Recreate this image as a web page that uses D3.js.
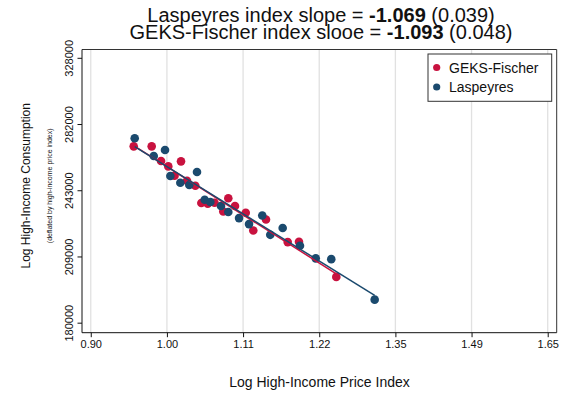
<!DOCTYPE html>
<html>
<head>
<meta charset="utf-8">
<script src="https://cdn.jsdelivr.net/npm/d3@7"></script>
<style>
  html, body { margin: 0; padding: 0; background: #fff; }
  svg { display: block; font-family: "Liberation Sans", Arial, Helvetica, sans-serif; }
</style>
</head>
<body>
<svg id="chart" width="567" height="393"></svg>
<script>
// Log price index (x) and log deflated consumption (y), one point per observation
const geksLogPrice = [-0.0436, -0.0200, -0.0077, 0.0018, 0.0185, 0.0100, 0.0264, 0.0373, 0.0452, 0.0536,
                      0.0625, 0.0806, 0.0894, 0.0740, 0.1035, 0.1134, 0.1301, 0.1586, 0.1734, 0.2224];
const geksLogCons  = [12.4994, 12.4994, 12.4663, 12.4540, 12.4654, 12.4329, 12.4216, 12.4102, 12.3710, 12.3694,
                      12.3717, 12.3819, 12.3642, 12.3519, 12.3490, 12.3088, 12.3338, 12.2825, 12.2832, 12.2037];
const laspLogPrice = [-0.0423, -0.0173, -0.0025, 0.0045, 0.0176, 0.0294, 0.0395, 0.0496, 0.0570, 0.0710,
                      0.0806, 0.0947, 0.1078, 0.1252, 0.1357, 0.1520, 0.1747, 0.1954, 0.2158, 0.2728];
const laspLogCons  = [12.5176, 12.4776, 12.4912, 12.4322, 12.4170, 12.4118, 12.4413, 12.3785, 12.3732, 12.3642,
                      12.3506, 12.3369, 12.3233, 12.3428, 12.2990, 12.3143, 12.2741, 12.2457, 12.2439, 12.1522];

// Regression slopes (standard errors) reported in the title
const laspSlope = -1.069, laspSE = 0.039;
const geksSlope = -1.093, geksSE = 0.048;

// Axis ticks: positions in logs, labels in levels
const xTickLogs = [-0.1, 0, 0.1, 0.2, 0.3, 0.4, 0.5];
const xTickLabels = ["0.90", "1.00", "1.11", "1.22", "1.35", "1.49", "1.65"];
const yTickLogs = [12.1, 12.25, 12.4, 12.55, 12.7];
const yTickLabels = ["180000", "209000", "243000", "282000", "328000"];

const seriesNames = ["GEKS-Fischer", "Laspeyres"];
const seriesColors = ["#c8123f", "#1b4a6e"];

const svg = d3.select("#chart");
const plot = { left: 82, right: 556.7, top: 49.5, bottom: 332.7 };

const x = d3.scaleLinear().domain([-0.1115, 0.5118]).range([plot.left, plot.right]);
const y = d3.scaleLinear().domain([12.0773, 12.7188]).range([plot.bottom, plot.top]);

// Vertical grid lines at the x ticks
svg.append("g").selectAll("line").data(xTickLogs).join("line")
  .attr("x1", d => x(d)).attr("x2", d => x(d))
  .attr("y1", plot.top).attr("y2", plot.bottom)
  .attr("stroke", "#e1e1e1").attr("stroke-width", 1.3);

// Plot frame (top and right)
svg.append("path")
  .attr("d", `M${plot.left},${plot.top}H${plot.right}V${plot.bottom}`)
  .attr("fill", "none").attr("stroke", "#333").attr("stroke-width", 1);

// Axes
const xAxis = d3.axisBottom(x).tickValues(xTickLogs)
  .tickFormat((d, i) => xTickLabels[i]).tickSize(4.5).tickPadding(3.5);
const gx = svg.append("g").attr("transform", `translate(0,${plot.bottom})`).call(xAxis);
gx.select(".domain").attr("d", `M${plot.left},0H${plot.right}`).attr("stroke", "#111");
gx.selectAll(".tick line").attr("stroke", "#111");
gx.selectAll("text").attr("font-size", 11).attr("fill", "#111")
  .attr("font-family", "'Liberation Sans', Arial, sans-serif");

const yAxis = d3.axisLeft(y).tickValues(yTickLogs)
  .tickFormat((d, i) => yTickLabels[i]).tickSize(4.5);
const gy = svg.append("g").attr("transform", `translate(${plot.left},0)`).call(yAxis);
gy.select(".domain").attr("d", `M0,${plot.top}V${plot.bottom}`).attr("stroke", "#111");
gy.selectAll(".tick line").attr("stroke", "#111");
gy.selectAll("text")
  .attr("font-size", 11).attr("fill", "#111")
  .attr("font-family", "'Liberation Sans', Arial, sans-serif")
  .attr("x", null).attr("dy", null)
  .attr("text-anchor", "middle")
  .attr("transform", "translate(-9.5,0) rotate(-90)");

// Series points, GEKS-Fischer drawn first
const series = [
  { xs: geksLogPrice, ys: geksLogCons, slope: geksSlope, color: seriesColors[0] },
  { xs: laspLogPrice, ys: laspLogCons, slope: laspSlope, color: seriesColors[1] }
];

series.forEach(s => {
  const pts = s.xs.map((v, i) => [v, s.ys[i]]);
  svg.append("g").selectAll("circle").data(pts).join("circle")
    .attr("cx", d => x(d[0])).attr("cy", d => y(d[1]))
    .attr("r", 4.3).attr("fill", s.color);
});

// Fitted lines with the reported slopes, through each series' mean point
series.forEach(s => {
  const mx = d3.mean(s.xs), my = d3.mean(s.ys);
  const [x0, x1] = d3.extent(s.xs);
  const f = v => my + s.slope * (v - mx);
  svg.append("line")
    .attr("x1", x(x0)).attr("y1", y(f(x0)))
    .attr("x2", x(x1)).attr("y2", y(f(x1)))
    .attr("stroke", s.color).attr("stroke-width", 1.5);
});

// Legend
const lg = svg.append("g");
lg.append("rect").attr("x", 428).attr("y", 54).attr("width", 123.7).attr("height", 47.3)
  .attr("fill", "#fff").attr("stroke", "#333").attr("stroke-width", 1);
seriesNames.forEach((name, i) => {
  lg.append("circle").attr("cx", 436.7).attr("cy", 67.5 + i * 19.5).attr("r", 3.6).attr("fill", seriesColors[i]);
  lg.append("text").attr("x", 449).attr("y", 72.7 + i * 19.5)
    .attr("font-size", 14).attr("fill", "#111").text(name);
});

// Title lines
const titles = [
  { label: "Laspeyres index slope = ", slope: laspSlope, se: laspSE, y: 21.5 },
  { label: "GEKS-Fischer index slooe = ", slope: geksSlope, se: geksSE, y: 39 }
];
titles.forEach(t => {
  const txt = svg.append("text").attr("x", 321).attr("y", t.y)
    .attr("text-anchor", "middle").attr("font-size", 20).attr("fill", "#111");
  txt.append("tspan").text(t.label);
  txt.append("tspan").attr("font-weight", "bold").text(t.slope.toFixed(3));
  txt.append("tspan").text(` (${t.se.toFixed(3)})`);
});

// Axis titles
svg.append("text").attr("x", 319.5).attr("y", 386.5).attr("text-anchor", "middle")
  .attr("font-size", 14).attr("fill", "#111").text("Log High-Income Price Index");

svg.append("text").attr("transform", "translate(29.5,185.8) rotate(-90)")
  .attr("text-anchor", "middle").attr("font-size", 12).attr("fill", "#111")
  .text("Log High-Income Consumption");
svg.append("text").attr("transform", "translate(51.5,185.8) rotate(-90)")
  .attr("text-anchor", "middle").attr("font-size", 7).attr("fill", "#111")
  .text("(deflated by high-income price index)");
</script>
</body>
</html>
